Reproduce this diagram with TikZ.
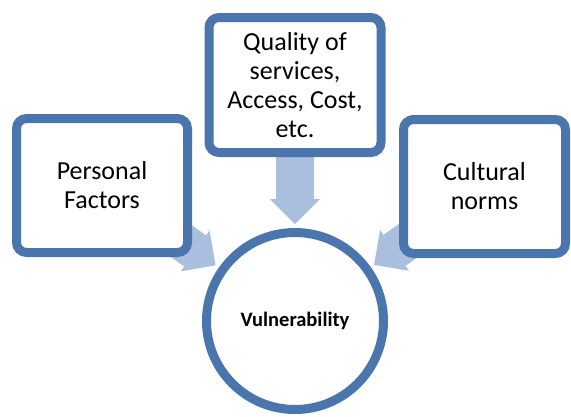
\documentclass[tikz,border=0pt]{standalone}
\usepackage{fontspec}
\setmainfont{Carlito}
\usetikzlibrary{arrows.meta}
\pgfdeclarelayer{bg}
\pgfsetlayers{bg,main}
\definecolor{boxblue}{RGB}{74,118,173}
\definecolor{arrowblue}{RGB}{170,190,221}
\begin{document}
\begin{tikzpicture}[x=1pt,y=-1pt,
  factor/.style={draw=boxblue, line width=9pt, fill=white, rounded corners=10pt,
    align=center, inner sep=0pt, font=\fontsize{26}{29}\selectfont},
  hub/.style={circle, draw=boxblue, line width=9pt, fill=white, inner sep=0pt,
    font=\fontsize{20.5}{24}\selectfont\bfseries},
  flow/.style={draw=arrowblue, line width=38pt,
    -{Triangle[length=25pt,width=50pt,line width=0pt]}, shorten >=4pt}]
\useasboundingbox (0,0) rectangle (571,416);
\node[factor, minimum width=172pt, minimum height=135pt] (top) at (295,85)
  {Quality of\\services,\\Access, Cost,\\etc.};
\node[factor, minimum width=171pt, minimum height=134pt] (left) at (102,185.5)
  {Personal\\Factors};
\node[factor, minimum width=162pt, minimum height=134pt] (right) at (484.5,186.5)
  {Cultural\\norms};
\node[hub, minimum size=177pt] (circ) at (295,321) {Vulnerability};
\begin{pgfonlayer}{bg}
\draw[flow] (top.center) -- (circ);
\draw[flow] (left.center) -- (circ);
\draw[flow] (right.center) -- (circ);
\end{pgfonlayer}
\end{tikzpicture}
\end{document}
